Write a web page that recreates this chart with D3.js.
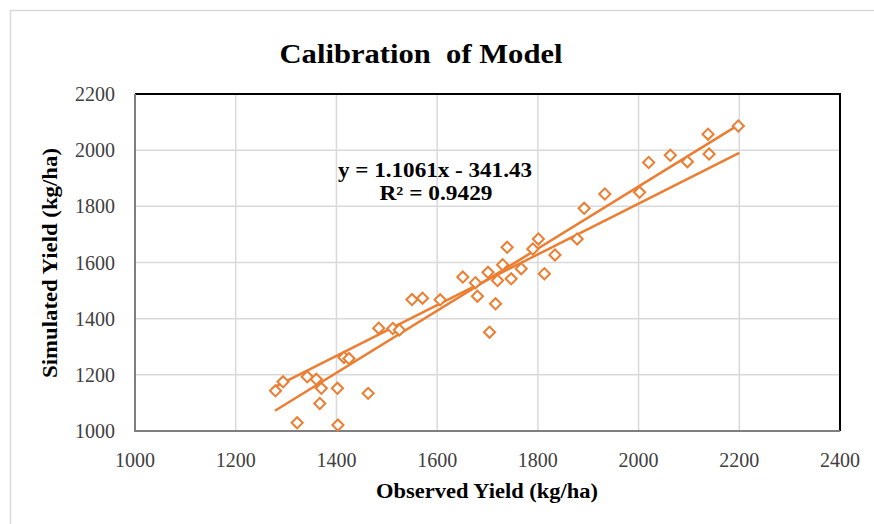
<!DOCTYPE html>
<html>
<head>
<meta charset="utf-8">
<script src="https://cdn.jsdelivr.net/npm/d3@7"></script>
<style>
  body { margin: 0; background: #fff; }
  svg { display: block; font-family: "Liberation Serif", "Times New Roman", serif; }
</style>
</head>
<body>
<div class="chart"></div>
<script>
// observed vs simulated yield (kg/ha)
const observed = [1279, 1294, 1342, 1360, 1370, 1402, 1367, 1463, 1322, 1403, 1415, 1425,
  1484, 1512, 1525, 1550, 1571, 1606, 1651, 1676, 1680, 1701, 1720, 1716, 1704,
  1730, 1739, 1747, 1767, 1790, 1801, 1813, 1834, 1878, 1892, 1933, 2002, 2020,
  2063, 2097, 2140, 2138, 2198]
const simulated = [1143, 1175, 1193, 1184, 1152, 1152, 1098, 1134, 1029, 1021, 1262, 1258,
  1366, 1365, 1360, 1468, 1473, 1467, 1548, 1528, 1480, 1565, 1536, 1453, 1352,
  1592, 1654, 1542, 1578, 1648, 1684, 1560, 1627, 1684, 1793, 1844, 1850, 1956,
  1982, 1959, 1986, 2057, 2086]

const slope = 1.1061
const intercept = -341.43
const trendX = [1278, 2200]
// second straight line drawn on the chart
const refX = [1272, 2200]
const refY = [1152, 1990]

const xTicks = [1000, 1200, 1400, 1600, 1800, 2000, 2200, 2400]
const yTicks = [1000, 1200, 1400, 1600, 1800, 2000, 2200]

const width = 874
const height = 524
const orange = "#ED7D31"

const svg = d3.select(".chart")
  .append("svg")
    .attr("width", width)
    .attr("height", height)

// outer chart frame
svg.append("path")
  .attr("d", "M10.5,524 L10.5,10.5 L874,10.5")
  .attr("fill", "none")
  .attr("stroke", "#d9d9d9")
  .attr("stroke-width", 1.5)

const x = d3.scaleLinear().domain([1000, 2400]).range([135, 840])
const y = d3.scaleLinear().domain([1000, 2200]).range([431, 94])

// gridlines
svg.append("g")
  .selectAll("line.vx")
  .data(xTicks.slice(1, -1))
  .join("line")
    .attr("x1", d => x(d)).attr("x2", d => x(d))
    .attr("y1", y(1000)).attr("y2", y(2200))
    .attr("stroke", "#d9d9d9")
    .attr("stroke-width", 1.5)

svg.append("g")
  .selectAll("line.hy")
  .data(yTicks.slice(1, -1))
  .join("line")
    .attr("x1", x(1000)).attr("x2", x(2400))
    .attr("y1", d => y(d)).attr("y2", d => y(d))
    .attr("stroke", "#d9d9d9")
    .attr("stroke-width", 1.5)

// plot border: black top/right, grey left/bottom
svg.append("path")
  .attr("d", `M${x(1000)},${y(2200)} L${x(2400)},${y(2200)} L${x(2400)},${y(1000)}`)
  .attr("fill", "none")
  .attr("stroke", "#000")
  .attr("stroke-width", 2)
svg.append("path")
  .attr("d", `M${x(1000)},${y(2200)} L${x(1000)},${y(1000)} L${x(2400)},${y(1000)}`)
  .attr("fill", "none")
  .attr("stroke", "#7f7f7f")
  .attr("stroke-width", 2)

// tick labels
svg.append("g")
  .selectAll("text")
  .data(xTicks)
  .join("text")
    .attr("x", d => x(d))
    .attr("y", 467)
    .attr("text-anchor", "middle")
    .attr("font-size", 20)
    .attr("fill", "#404040")
    .text(d => d)

svg.append("g")
  .selectAll("text")
  .data(yTicks)
  .join("text")
    .attr("x", 115)
    .attr("y", d => y(d) + 7)
    .attr("text-anchor", "end")
    .attr("font-size", 20)
    .attr("fill", "#404040")
    .text(d => d)

// lines
const line = d3.line().x(d => x(d[0])).y(d => y(d[1]))

svg.append("path")
  .datum(trendX.map(v => [v, slope * v + intercept]))
  .attr("d", line)
  .attr("fill", "none")
  .attr("stroke", orange)
  .attr("stroke-width", 2.5)

svg.append("path")
  .datum(refX.map((v, i) => [v, refY[i]]))
  .attr("d", line)
  .attr("fill", "none")
  .attr("stroke", orange)
  .attr("stroke-width", 2.5)

// markers
const diamond = d3.symbol(d3.symbolSquare, 62)
svg.append("g")
  .selectAll("path")
  .data(observed.map((v, i) => [v, simulated[i]]))
  .join("path")
    .attr("d", diamond)
    .attr("transform", d => `translate(${x(d[0])},${y(d[1])}) rotate(45)`)
    .attr("fill", "#fff")
    .attr("stroke", orange)
    .attr("stroke-width", 2)

// title and labels
svg.append("text")
  .attr("x", 421)
  .attr("y", 63)
  .attr("text-anchor", "middle")
  .attr("font-size", 27)
  .attr("font-weight", "bold")
  .attr("textLength", 283)
  .attr("lengthAdjust", "spacingAndGlyphs")
  .style("white-space", "pre")
  .text("Calibration  of Model")

svg.append("text")
  .attr("x", 435)
  .attr("y", 177)
  .attr("text-anchor", "middle")
  .attr("font-size", 20)
  .attr("font-weight", "bold")
  .attr("textLength", 194)
  .attr("lengthAdjust", "spacingAndGlyphs")
  .text(`y = ${slope}x - ${Math.abs(intercept)}`)

svg.append("text")
  .attr("x", 436)
  .attr("y", 200)
  .attr("text-anchor", "middle")
  .attr("font-size", 20)
  .attr("font-weight", "bold")
  .attr("textLength", 113)
  .attr("lengthAdjust", "spacingAndGlyphs")
  .text("R² = 0.9429")

svg.append("text")
  .attr("x", 487)
  .attr("y", 498)
  .attr("text-anchor", "middle")
  .attr("font-size", 20)
  .attr("font-weight", "bold")
  .attr("textLength", 222)
  .attr("lengthAdjust", "spacingAndGlyphs")
  .text("Observed Yield (kg/ha)")

svg.append("text")
  .attr("transform", "translate(57,263) rotate(-90)")
  .attr("text-anchor", "middle")
  .attr("font-size", 20)
  .attr("font-weight", "bold")
  .attr("textLength", 230)
  .attr("lengthAdjust", "spacingAndGlyphs")
  .text("Simulated Yield (kg/ha)")
</script>
</body>
</html>
